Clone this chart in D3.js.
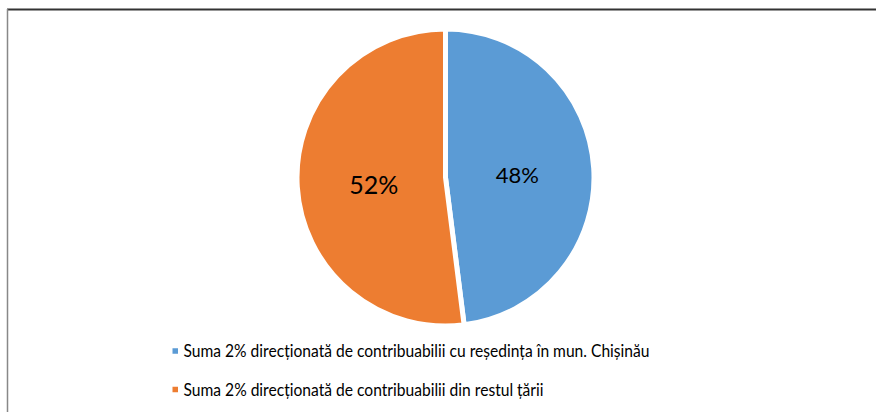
<!DOCTYPE html>
<html>
<head>
<meta charset="utf-8">
<script src="https://cdn.jsdelivr.net/npm/d3@7"></script>
<style>
body { margin: 0; background: #fff; }
svg { display: block; font-family: Lato, "Open Sans", sans-serif; }
</style>
</head>
<body>
<div id="chart"></div>
<script>
// data
const categories = [
  "Suma 2% direcționată de contribuabilii cu reședința în mun. Chișinău",
  "Suma 2% direcționată de contribuabilii din restul țării"
];
const values = [48, 52];
const labels = ["48%", "52%"];
const colors = ["#5B9BD5", "#ED7D31"];

const labelSizes = [22, 25];
const legendWidths = [466, 360];

const w = 876, h = 412;
const cx = 445.5, cy = 177.5, r = 148.5;

const svg = d3.select('#chart')
  .append('svg')
  .attr('width', w)
  .attr('height', h);

// frame (top + left edges only visible)
svg.append('line')
  .attr('x1', 7).attr('y1', 9.5).attr('x2', w).attr('y2', 9.5)
  .attr('stroke', '#333').attr('stroke-width', 2);
svg.append('line')
  .attr('x1', 7.5).attr('y1', 9).attr('x2', 7.5).attr('y2', h)
  .attr('stroke', '#888').attr('stroke-width', 1.5);

const pie = d3.pie().sort(null).value(d => d);
const arcs = pie(values);

const arc = d3.arc().innerRadius(0).outerRadius(r);
const labelArc = d3.arc().innerRadius(144).outerRadius(0);

const g = svg.append('g').attr('transform', `translate(${cx},${cy})`);

g.selectAll('path')
  .data(arcs)
  .enter()
  .append('path')
  .attr('d', arc)
  .attr('fill', (d, i) => colors[i])
  .attr('stroke', '#fff')
  .attr('stroke-width', 5)
  .attr('stroke-linejoin', 'round');

g.selectAll('text.lbl')
  .data(arcs)
  .enter()
  .append('text')
  .attr('class', 'lbl')
  .attr('transform', d => {
    const c = labelArc.centroid(d);
    return `translate(${c[0]},${c[1] + 1.5})`;
  })
  .attr('text-anchor', 'middle')
  .attr('dominant-baseline', 'central')
  .attr('font-size', (d, i) => labelSizes[i])
  .attr('fill', '#000')
  .text((d, i) => labels[i]);

// legend
const legend = svg.append('g').attr('transform', 'translate(172.5,0)');
const rows = [351, 389.5];

legend.selectAll('rect')
  .data(categories)
  .enter()
  .append('rect')
  .attr('x', 0)
  .attr('y', (d, i) => rows[i] - 2.75)
  .attr('width', 5.5)
  .attr('height', 5.5)
  .attr('fill', (d, i) => colors[i]);

legend.selectAll('text')
  .data(categories)
  .enter()
  .append('text')
  .attr('x', 11)
  .attr('y', (d, i) => rows[i] + 6)
  .attr('font-size', 17)
  .attr('textLength', (d, i) => legendWidths[i])
  .attr('lengthAdjust', 'spacingAndGlyphs')
  .attr('fill', '#000')
  .text(d => d);
</script>
</body>
</html>
